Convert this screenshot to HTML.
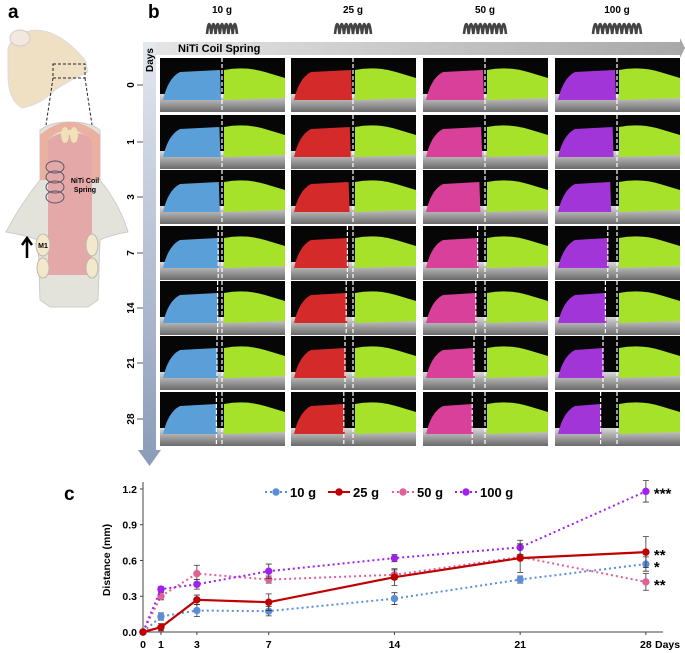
<!DOCTYPE html>
<html><head><meta charset="utf-8"><style>
body{margin:0;background:#fff;font-family:"Liberation Sans",Arial,sans-serif}
#root{position:relative;width:685px;height:653px;overflow:hidden}
svg text{font-family:"Liberation Sans",Arial,sans-serif}
</style></head><body>
<div id="root">
<svg id="fig" width="685" height="653">
<defs>
<linearGradient id="hg" x1="0" x2="1"><stop offset="0" stop-color="#e6e6e6"/><stop offset="1" stop-color="#a8a8a8"/></linearGradient>
<linearGradient id="vg" x1="0" y1="0" x2="0" y2="1"><stop offset="0" stop-color="#e4e8ef"/><stop offset="1" stop-color="#8a9bb8"/></linearGradient>
<linearGradient id="bone" x1="0" y1="0" x2="0" y2="1"><stop offset="0" stop-color="#d8d8d8"/><stop offset="1" stop-color="#6a6a6a"/></linearGradient>
</defs>
<text x="8" y="18" font-size="19" font-weight="bold">a</text>
<text x="148" y="18" font-size="19" font-weight="bold">b</text>
<text x="64" y="500" font-size="19" font-weight="bold">c</text>
<g>
<path d="M8 48 Q14 32 35 30 Q60 30 85 60 L88 72 Q70 80 55 90 Q40 105 22 108 Q8 100 8 75 Z" fill="#efe0c4" stroke="#ddd"/>
<ellipse cx="20" cy="38" rx="10" ry="8" fill="#f3e8de" stroke="#ccc"/>
<rect x="53" y="64" width="32" height="14" fill="none" stroke="#222" stroke-dasharray="3,2"/>
<line x1="53" y1="78" x2="46" y2="125" stroke="#222" stroke-dasharray="3,2"/>
<line x1="85" y1="78" x2="92" y2="125" stroke="#222" stroke-dasharray="3,2"/>
</g>
<g>
<path d="M6 232 Q20 205 40 180 L40 130 Q50 122 70 122 Q90 122 100 130 L100 180 Q120 205 128 232 Q110 235 100 240 L98 300 L88 307 L50 307 L40 300 L38 240 Q25 235 6 232 Z" fill="#e3e3dc" stroke="#ccc"/>
<path d="M40 180 L40 135 Q55 122 70 122 Q85 122 100 135 L100 180 L92 180 L92 140 Q80 130 70 130 Q58 130 48 140 L48 180 Z" fill="#eab0a0"/>
<path d="M48 140 Q60 130 70 135 Q82 130 92 140 L92 275 L48 275 Z" fill="#e4a8a8"/>
<ellipse cx="65" cy="135" rx="4" ry="8" fill="#efe2b4"/><ellipse cx="74" cy="135" rx="4" ry="8" fill="#efe2b4"/>
<g fill="none" stroke="#556" stroke-width="1"><ellipse cx="55" cy="167" rx="9" ry="6"/><ellipse cx="55" cy="177" rx="9" ry="6"/><ellipse cx="55" cy="187" rx="9" ry="6"/><ellipse cx="55" cy="197" rx="9" ry="6"/></g>
<text x="85" y="183" font-size="7" font-weight="bold" text-anchor="middle">NiTi Coil</text>
<text x="85" y="192" font-size="7" font-weight="bold" text-anchor="middle">Spring</text>
<ellipse cx="43" cy="245" rx="7" ry="11" fill="#f3e8cc" stroke="#bba"/>
<ellipse cx="43" cy="268" rx="6" ry="10" fill="#f3e8cc" stroke="#bba"/>
<ellipse cx="92" cy="245" rx="6" ry="11" fill="#f3e8cc" stroke="#bba"/>
<ellipse cx="92" cy="268" rx="6" ry="10" fill="#f3e8cc" stroke="#bba"/>
<text x="43" y="248" font-size="7" font-weight="bold" text-anchor="middle">M1</text>
<path d="M27 258 L27 240 M22 245 L27 238 L32 245" stroke="#000" stroke-width="2.5" fill="none"/>
</g>
<path d="M143 42 L680 42 L680 38 L685 48 L680 58 L680 55 L143 55 Z" fill="url(#hg)"/>
<path d="M143 42 L156 42 L156 450 L161 450 L149.5 466 L138 450 L143 450 Z" fill="url(#vg)"/>
<text x="178" y="52" font-size="11" font-weight="bold">NiTi Coil Spring</text>
<text transform="translate(153,72) rotate(-90)" font-size="10" font-weight="bold">Days</text>
<g id="cells"></g>
<g id="chart"></g>
</svg>
</div>
<script>
const NS='http://www.w3.org/2000/svg';
function mk(t,a,p){const e=document.createElementNS(NS,t);for(const k in a)e.setAttribute(k,a[k]);(p||document.getElementById('fig')).appendChild(e);return e;}
const forces=['10 g','25 g','50 g','100 g'];
const days=['0','1','3','7','14','21','28'];
const toothColors=['#5b9fd8','#d42a2a','#d8409a','#a235d8'];
const colX=[160,291,423,555], rowY=[58,115,170,226,281,336,392];
const cells=document.getElementById('cells');
forces.forEach((f,i)=>{
  const cx=colX[i]+62;
  const t=mk('text',{x:cx,y:13,'font-size':10,'font-weight':'bold','text-anchor':'middle'});t.textContent=f;
  
  
  const n=7+i, w=30+i*6;
  let d='';for(let k=0;k<n;k++){const x=cx-w/2+k*w/n;d+=`M${x} 34 Q${x+w/(2*n)} 14 ${x+w/n} 34 `;}
  const s=mk('path',{d:d,fill:'none',stroke:'#444','stroke-width':2.6});
  
  
});
days.forEach((dy,r)=>{
  const l=mk('text',{transform:`translate(134,${rowY[r]+27}) rotate(-90)`,'font-size':10,'font-weight':'bold','text-anchor':'middle'});
  l.textContent=dy;
  
  
  mk('line',{x1:137,x2:143,y1:rowY[r]+27,y2:rowY[r]+27,stroke:'#555'});
  forces.forEach((f,i)=>{
    const x=colX[i],y=rowY[r];
    const g=mk('g',{},cells);
    
    
    mk('rect',{x:x,y:y,width:125,height:54,fill:'#060606'},g);
    mk('rect',{x:x,y:y+36,width:125,height:18,fill:'url(#bone)'},g);
    const gap=r*(i+1)*0.6;
    mk('path',{d:`M${x+3} ${y+42} Q${x+8} ${y+20} ${x+20} ${y+14} L${x+60-gap} ${y+12} L${x+61-gap} ${y+42} Z`,fill:toothColors[i]},g);
    mk('path',{d:`M${x+64} ${y+42} L${x+64} ${y+12} Q${x+85} ${y+8} ${x+105} ${y+14} L${x+125} ${y+20} L${x+125} ${y+40} Z`,fill:'#a6e22a'},g);
    mk('line',{x1:x+62,x2:x+62,y1:y,y2:y+54,stroke:'#fff','stroke-dasharray':'4,2','stroke-width':1.2},g);
    if(r>2) mk('line',{x1:x+60-gap,x2:x+60-gap,y1:y,y2:y+54,stroke:'#fff','stroke-dasharray':'4,2','stroke-width':1.2},g);
  });
});
const xDays=[0,1,3,7,14,21,28];
const s10=[0,0.13,0.18,0.175,0.28,0.44,0.57];
const s25=[0,0.04,0.27,0.25,0.46,0.62,0.67];
const s50=[0,0.30,0.49,0.44,0.48,0.63,0.42];
const s100=[0,0.36,0.40,0.51,0.62,0.71,1.18];
const e10=[0,0.03,0.05,0.04,0.05,0.03,0.06];
const e25=[0,0.03,0.04,0.07,0.07,0.12,0.13];
const e50=[0,0.03,0.07,0.03,0.04,0.02,0.07];
const e100=[0,0.02,0.04,0.06,0.03,0.06,0.09];
const seriesNames=['10 g','25 g','50 g','100 g'];
const yTicks=[0,0.3,0.6,0.9,1.2];
const yTickLabels=['0.0','0.3','0.6','0.9','1.2'];
const stars=['*','**','**','***'];
const X=d=>143+d*17.96, Y=v=>632-v*119.2;
const ch=document.getElementById('chart');
mk('line',{x1:143,x2:663,y1:632,y2:632,stroke:'#444'},ch);
mk('line',{x1:143,x2:143,y1:482,y2:632,stroke:'#444'},ch);
yTicks.forEach((t,k)=>{mk('line',{x1:140,x2:143,y1:Y(t),y2:Y(t),stroke:'#444'},ch);
  const tx=mk('text',{x:137,y:Y(t)+4,'font-size':10.5,'font-weight':'bold','text-anchor':'end'},ch);tx.textContent=yTickLabels[k];
  
  });
xDays.forEach(d=>{mk('line',{x1:X(d),x2:X(d),y1:632,y2:635,stroke:'#444'},ch);
  const tx=mk('text',{x:X(d),y:648,'font-size':10.5,'font-weight':'bold','text-anchor':'middle'},ch);tx.textContent=d;
  
  });
const dl=mk('text',{x:655,y:648,'font-size':10.5,'font-weight':'bold'},ch);dl.textContent='Days';


const yl=mk('text',{transform:'translate(110,560) rotate(-90)','font-size':10.5,'font-weight':'bold','text-anchor':'middle'},ch);yl.textContent='Distance (mm)';


const all=[s10,s25,s50,s100], errs=[e10,e25,e50,e100];
const cols=['#5b8ed8','#c00000','#e0609a','#a020f0'];
const dash=['2,3','','2,3','2,3'];
const order=[0,2,3,1];
order.forEach(i=>{
  const g=mk('g',{},ch);
  
  
  const pts=xDays.map((d,k)=>X(d)+','+Y(all[i][k])).join(' ');
  mk('polyline',{points:pts,fill:'none',stroke:cols[i],'stroke-width':i==1?2.2:2,'stroke-dasharray':dash[i]},g);
  xDays.forEach((d,k)=>{
    const v=all[i][k],e=errs[i][k];
    if(e>0){mk('path',{d:`M${X(d)} ${Y(v-e)} V${Y(v+e)} M${X(d)-3} ${Y(v-e)} h6 M${X(d)-3} ${Y(v+e)} h6`,stroke:'#333','stroke-width':0.8},g);}
    const c=mk('circle',{cx:X(d),cy:Y(v),r:3.7,fill:cols[i]},g);
    
    
  });
  const st=mk('text',{x:X(28)+8,y:Y(all[i][6])+(i==3?7:8),'font-size':15,'font-weight':'bold'},ch);st.textContent=stars[i];
  
  
});
const lx=[265,328,392,455];
seriesNames.forEach((n,i)=>{
  const g=mk('g',{},ch);
  
  
  mk('line',{x1:lx[i],x2:lx[i]+22,y1:492,y2:492,stroke:cols[i],'stroke-width':2,'stroke-dasharray':dash[i]},g);
  mk('circle',{cx:lx[i]+11,cy:492,r:3.7,fill:cols[i]},g);
  const t=mk('text',{x:lx[i]+25,y:497,'font-size':13,'font-weight':'bold'},g);t.textContent=n;
});
</script>
</body></html>
